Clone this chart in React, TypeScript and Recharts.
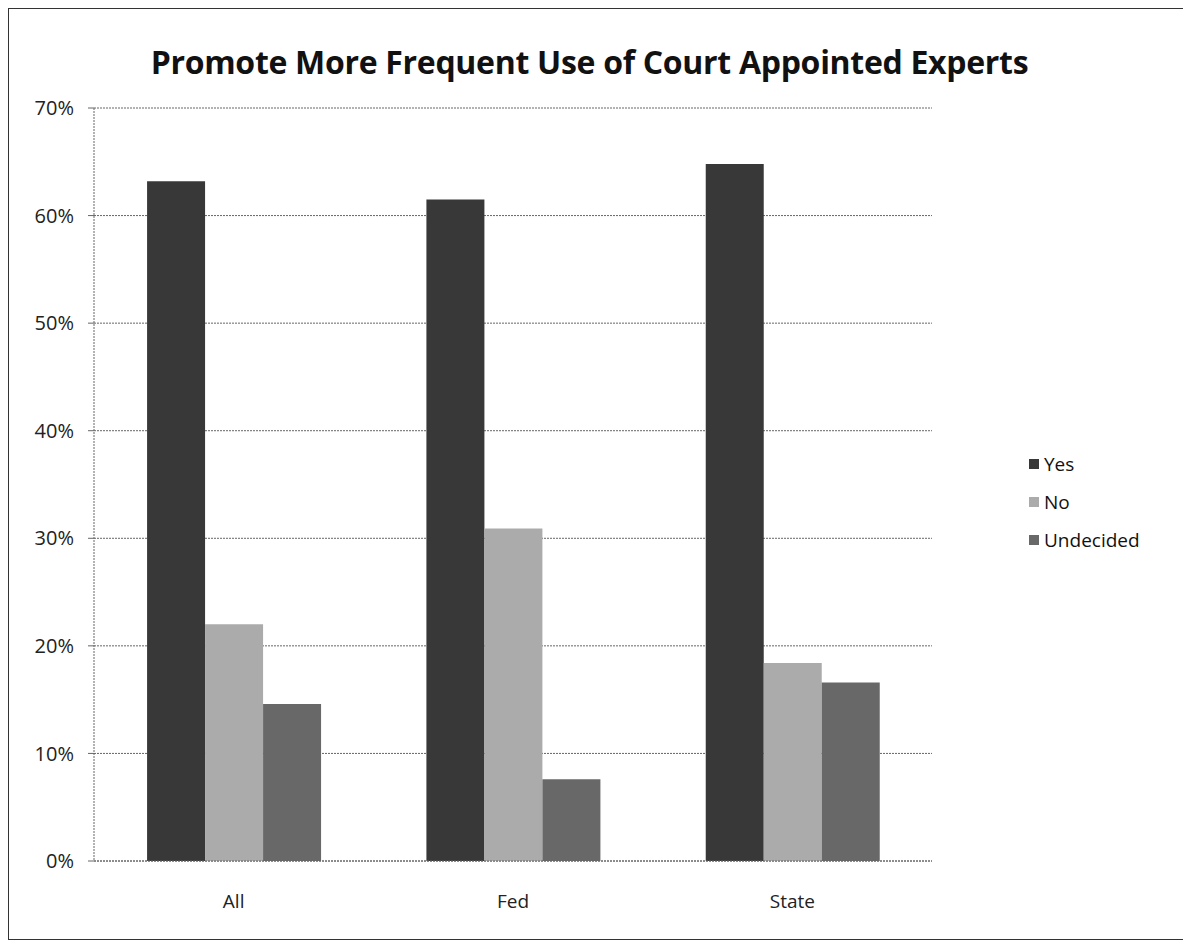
import React from "react";
import { BarChart, Bar, XAxis, YAxis, CartesianGrid } from "recharts";

const categories = ["All", "Fed", "State"];
const yesValues = [63.2, 61.5, 64.8];
const noValues = [22.0, 30.9, 18.4];
const undecidedValues = [14.6, 7.6, 16.6];
const yTicks = [0, 10, 20, 30, 40, 50, 60, 70];

const SERIES = [
  { key: "Yes", color: "#383838" },
  { key: "No", color: "#ababab" },
  { key: "Undecided", color: "#686868" },
];

const data = categories.map((name, i) => ({
  name,
  Yes: yesValues[i],
  No: noValues[i],
  Undecided: undecidedValues[i],
}));

const FONT = "'Open Sans', sans-serif";

function LegendBox() {
  return (
    <div style={{ position: "absolute", left: 1020, top: 436, fontFamily: FONT, fontSize: 19, color: "#111" }}>
      {SERIES.map((s) => (
        <div key={s.key} style={{ display: "flex", alignItems: "center", height: 38 }}>
          <span style={{ width: 10, height: 10, background: s.color, marginRight: 5, display: "inline-block" }} />
          {s.key}
        </div>
      ))}
    </div>
  );
}

export default function App() {
  return (
    <div style={{ position: "relative", width: 1175, height: 930, border: "1px solid #333", background: "#fff" }}>
      <div
        style={{
          position: "absolute",
          top: 31,
          left: 0,
          width: 1175,
          paddingRight: 14,
          boxSizing: "border-box",
          textAlign: "center",
          fontFamily: FONT,
          fontWeight: 700,
          fontSize: 32,
          letterSpacing: -0.3,
          color: "#111",
        }}
      >
        Promote More Frequent Use of Court Appointed Experts
      </div>
      <BarChart
        width={1175}
        height={930}
        data={data}
        margin={{ top: 99, right: 252, bottom: 18, left: 0 }}
        barCategoryGap="19%"
        barGap={0}
      >
        <CartesianGrid vertical={false} stroke="#666" strokeDasharray="2 1" />
        <XAxis
          dataKey="name"
          height={60}
          tickLine={false}
          axisLine={{ stroke: "#666", strokeDasharray: "2 1" }}
          tick={{ fontFamily: FONT, fontSize: 19, fill: "#222" }}
          tickMargin={28}
        />
        <YAxis
          width={85}
          domain={[0, 70]}
          ticks={yTicks}
          tickFormatter={(v: number) => `${v}%`}
          axisLine={{ stroke: "#666", strokeDasharray: "2 1" }}
          tickLine={{ stroke: "#666" }}
          tickSize={6}
          tickMargin={14}
          tick={{ fontFamily: FONT, fontSize: 20, fill: "#222" }}
        />
        {SERIES.map((s) => (
          <Bar key={s.key} dataKey={s.key} fill={s.color} isAnimationActive={false} />
        ))}
      </BarChart>
      <LegendBox />
    </div>
  );
}
